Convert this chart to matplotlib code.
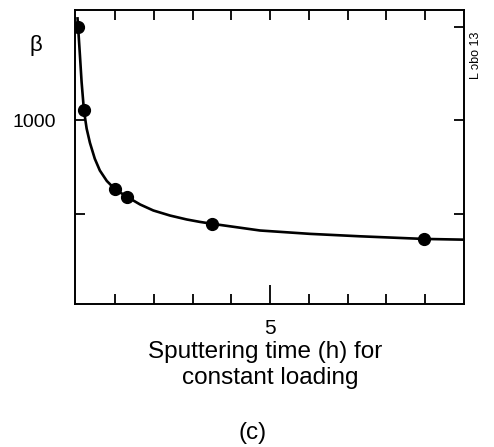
"""Beta versus sputtering time, panel (c)."""

import matplotlib
matplotlib.use("Agg")
import matplotlib.pyplot as plt

# measured points
time_h = [0.05, 0.2, 1.0, 1.32, 3.5, 8.96]
beta = [1500, 1054, 634, 590, 445, 366]

# hand-drawn curve
curve_t = [0.035, 0.05, 0.097, 0.14, 0.2, 0.27, 0.355, 0.48, 0.61, 0.79,
           1.0, 1.32, 1.65, 1.99, 2.42, 2.85, 3.19, 3.5, 4.74, 6.03, 7.32,
           8.96, 10.0]
curve_beta = [1545, 1500, 1348, 1205, 1054, 956, 880, 795, 732, 676,
              632, 590, 550, 518, 491, 470, 457, 447, 411, 393, 380,
              366, 362]

x_ticks = [1, 2, 3, 4, 5, 6, 7, 8, 9]
x_labels = ["", "", "", "", "5", "", "", "", ""]
y_ticks = [500, 1000, 1500]
y_labels = ["", "1000", ""]

text_font = ["Liberation Sans", "DejaVu Sans"]

fig = plt.figure(figsize=(4.94, 4.47), dpi=100)
ax = fig.add_axes([75 / 494, 1 - 304 / 447, 389 / 494, 294 / 447])

ax.plot(curve_t, curve_beta, color="black", linewidth=1.9, zorder=2,
        solid_joinstyle="round")
ax.plot(time_h, beta, "o", color="black", markersize=8.5, zorder=3)

ax.set_xlim(-0.03, 10.0)
ax.set_ylim(18, 1590)

for side in ["left", "right", "top", "bottom"]:
    ax.spines[side].set_linewidth(1.4)

ax.set_xticks(x_ticks)
ax.set_xticklabels(x_labels, family=text_font, fontsize=15)
ax.set_yticks(y_ticks)
ax.set_yticklabels(y_labels, family=text_font, fontsize=14)
ax.tick_params(direction="in", length=7, width=1.3, top=True, right=True,
               color="black")
ax.tick_params(axis="x", pad=11)
ax.tick_params(axis="y", pad=14)
# the 5 h tick is drawn longer
ax.xaxis.get_major_ticks()[4].tick1line.set_markersize(14)

ax.text(-0.1, 0.878, "\u03b2", transform=ax.transAxes, ha="center",
        va="center", fontsize=16, family=text_font)
ax.text(1.03, 0.847, "L \u0254bo 13", transform=ax.transAxes, rotation=90,
        ha="center", va="center", fontsize=9, family=text_font)

fig.text(265 / 494, 1 - 352 / 447, "Sputtering time (h) for", ha="center",
         va="center", fontsize=17.5, family=text_font)
fig.text(270 / 494, 1 - 378 / 447, "constant loading", ha="center",
         va="center", fontsize=17.5, family=text_font)
fig.text(253 / 494, 1 - 433 / 447, "(c)", ha="center", va="center",
         fontsize=17.5, family=text_font)

fig.savefig("out.png", dpi=100)
plt.close(fig)
